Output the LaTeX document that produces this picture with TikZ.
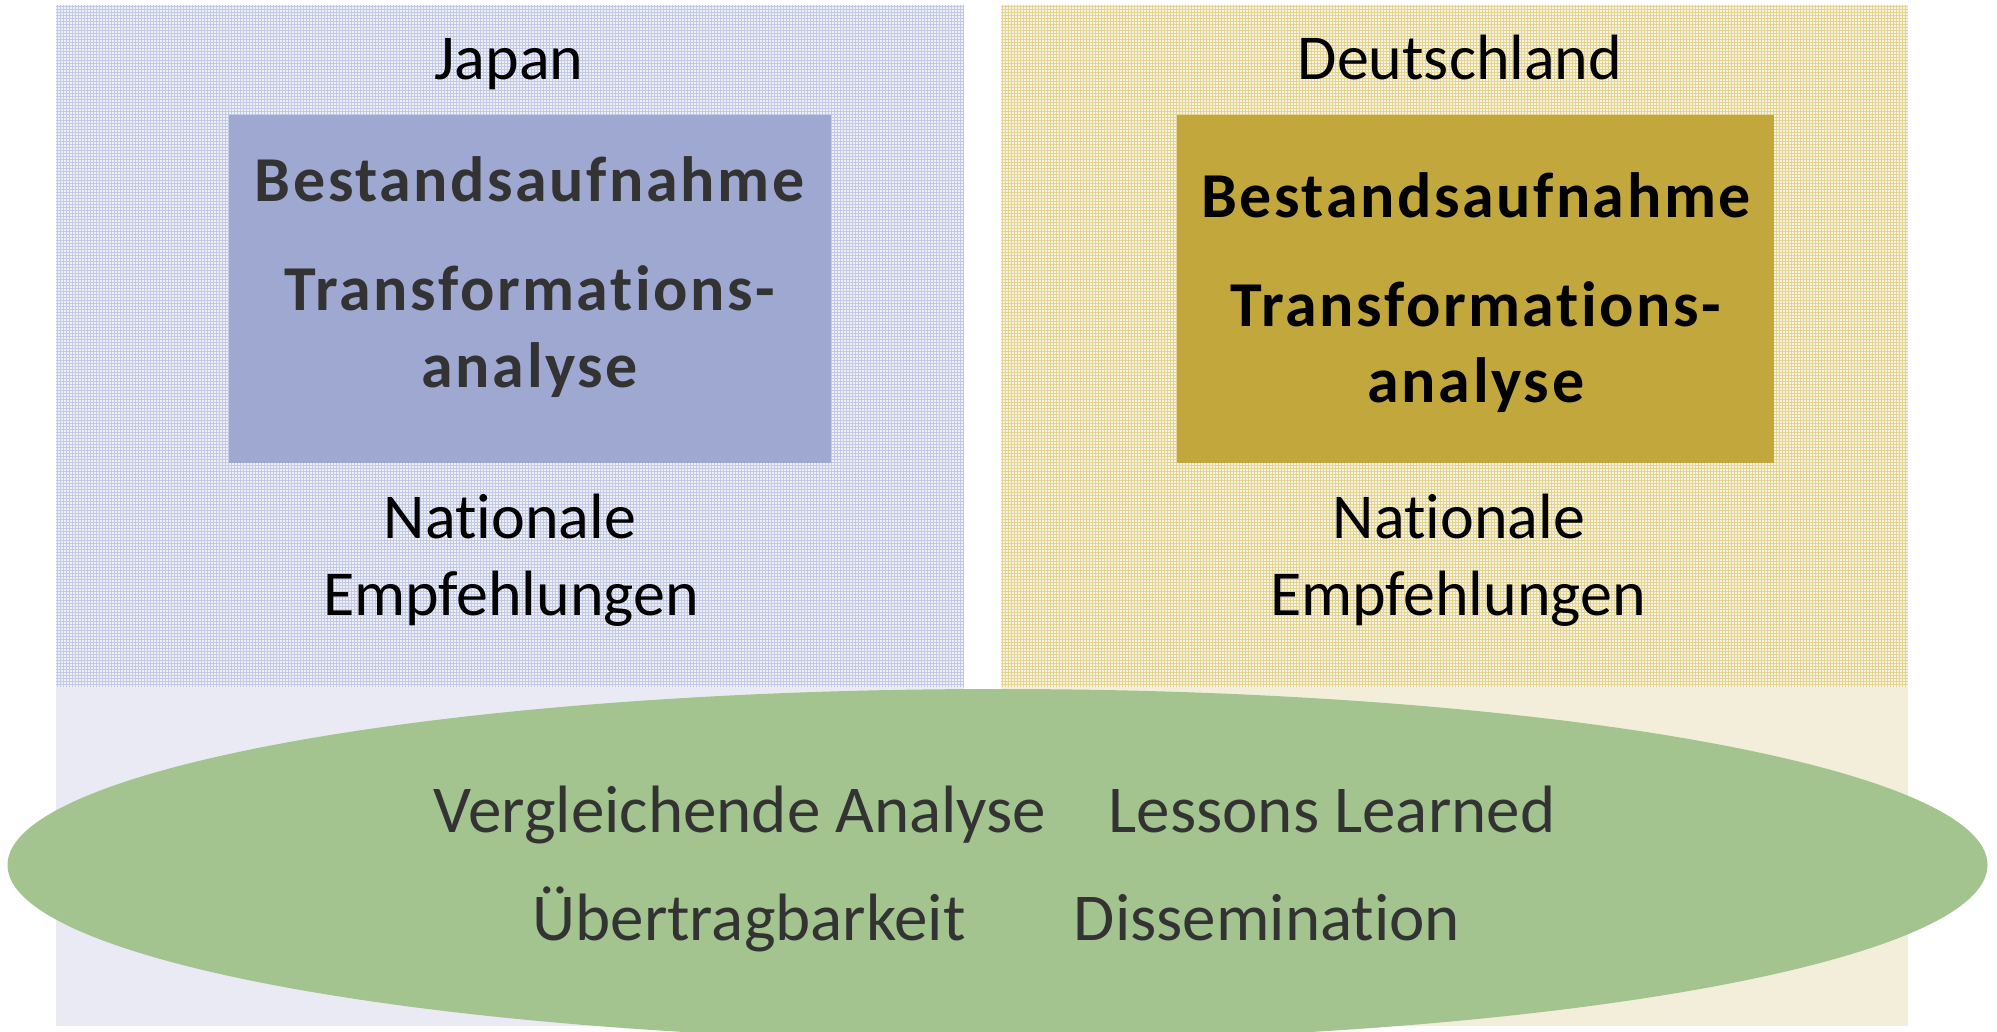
\documentclass[tikz,border=0pt]{standalone}
\usepackage{fontspec}
\setmainfont[Ligatures=CommonOff]{Carlito}
\newfontfamily\spacedfont[LetterSpace=4,Ligatures=CommonOff]{Carlito}
\usetikzlibrary{shapes.geometric}
\definecolor{lpbase}{HTML}{EEF0F8}
\definecolor{lpline}{HTML}{C3C9E4}
\definecolor{rpbase}{HTML}{F7F3E0}
\definecolor{rpline}{HTML}{E2D490}
\definecolor{lplain}{HTML}{EAEAF4}
\definecolor{rplain}{HTML}{F3EED9}
\definecolor{bluebox}{HTML}{9FA8D1}
\definecolor{goldbox}{HTML}{C2A83C}
\definecolor{ellgreen}{HTML}{A3C38F}
\definecolor{textgray}{HTML}{333333}
\begin{document}
\begin{tikzpicture}[x=0.5pt,y=-0.5pt,
  reg/.style={font=\fontsize{32}{36}\selectfont, inner sep=0pt, anchor=base},
  ovaltext/.style={font=\fontsize{33.5}{38}\selectfont, inner sep=0pt, anchor=base, text=textgray},
  boxtext/.style={font=\spacedfont\bfseries\fontsize{32}{36}\selectfont, inner sep=0pt, anchor=base},
  colbox/.style={draw=none, inner sep=0pt, minimum height=174pt},
  gridline/.style={line width=0.3pt}
]
\useasboundingbox (0,0) rectangle (1997,1032);
\fill[white] (0,0) rectangle (1997,1032);
% left panel
\fill[lpbase] (56,5) rectangle (964,687);
\draw[gridline, lpline] \foreach \x in {57,60,...,963} {(\x,5) -- (\x,687)};
\draw[gridline, lpline] \foreach \y in {6,9,...,686} {(56,\y) -- (964,\y)};
\fill[lplain] (56,687) rectangle (964,1026);
% right panel
\fill[rpbase] (1001,5) rectangle (1908,687);
\draw[gridline, rpline] \foreach \x in {1002,1005,...,1907} {(\x,5) -- (\x,687)};
\draw[gridline, rpline] \foreach \y in {6,9,...,686} {(1001,\y) -- (1908,\y)};
\fill[rplain] (1001,687) rectangle (1908,1026);
% coloured boxes
\node[colbox, fill=bluebox, minimum width=301pt] (jbox) at (530,289) {};
\node[colbox, fill=goldbox, minimum width=298.5pt] (dbox) at (1475.5,289) {};
% headings
\node[reg] (japan) at (509,80) {Japan};
\node[reg] (de) at (1460,80) {Deutschland};
% box texts
\node[boxtext, text=textgray] (jb1) at (529.5,202) {Bestandsaufnahme};
\node[boxtext, text=textgray] (jb2) at (530,310) {Transformations-};
\node[boxtext, text=textgray] (jb3) at (530,387) {analyse};
\node[boxtext, text=black] (db1) at (1476,218) {Bestandsaufnahme};
\node[boxtext, text=black] (db2) at (1476,327) {Transformations-};
\node[boxtext, text=black] (db3) at (1476,402) {analyse};
% national recommendations
\node[reg] (jn1) at (510,538) {Nationale};
\node[reg] (jn2) at (511,615) {Empfehlungen};
\node[reg] (dn1) at (1459,538) {Nationale};
\node[reg] (dn2) at (1458,615) {Empfehlungen};
% ellipse
\node[ellipse, fill=ellgreen, draw=none, inner sep=0pt, minimum width=990pt, minimum height=176pt] (oval) at (997.5,865) {};
\node[ovaltext] (o1) at (740,832) {Vergleichende Analyse};
\node[ovaltext] (o2) at (1332,832) {Lessons Learned};
\node[ovaltext] (o3) at (749,940) {Übertragbarkeit};
\node[ovaltext] (o4) at (1267,940) {Dissemination};
\end{tikzpicture}
\end{document}
